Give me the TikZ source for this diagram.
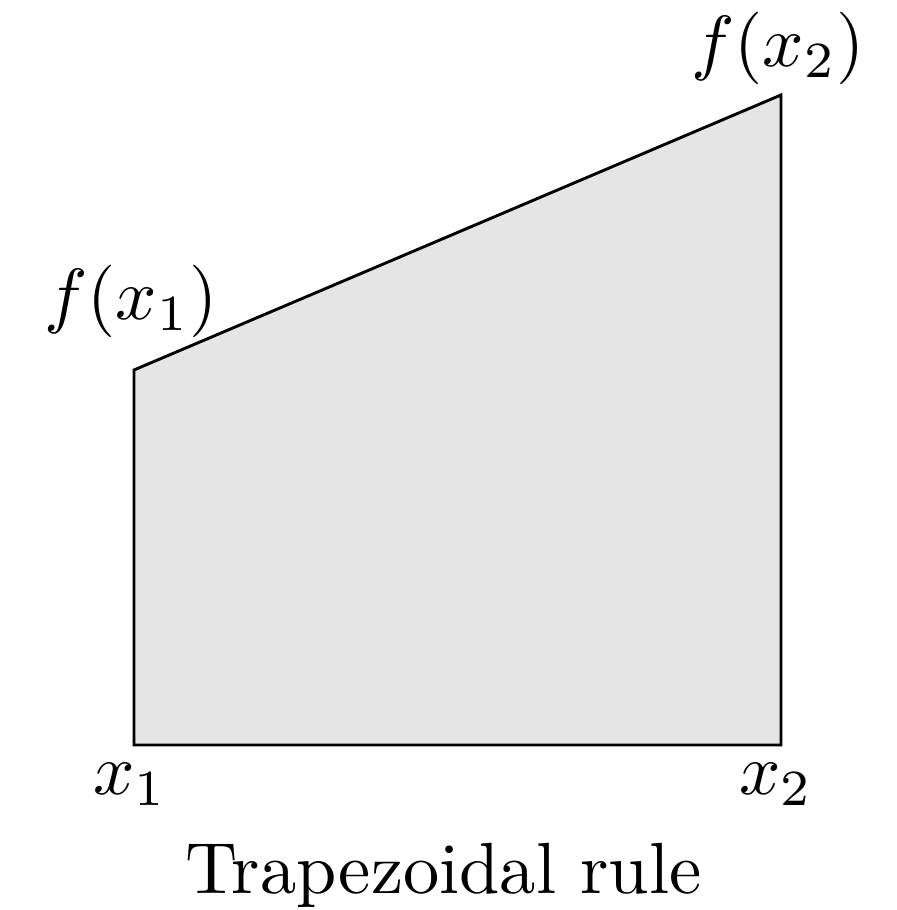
\documentclass[tikz,border=0pt]{standalone}
\usepackage{tikz}
\usetikzlibrary{calc}

\begin{document}
\begin{tikzpicture}[
  x=0.138pt, y=0.138pt,
  area/.style={draw, fill=black!10, line join=miter},
  lbl/.style={anchor=base, inner sep=0pt}
]
\useasboundingbox (0,0) rectangle (897,910);
% corners of the trapezoid
\coordinate (xa) at (134,165);
\coordinate (xb) at (781,165);
\coordinate (fb) at (781,815);
\coordinate (fa) at (134,540);

\filldraw[area] (xa) -- (xb) -- (fb) -- (fa) -- cycle;

\node[lbl] (lfb) at ($(fb)+(-3,28)$) {$f(x_2)$};
\node[lbl] (lfa) at ($(fa)+(-3,50)$) {$f(x_1)$};
\node[lbl] (lxa) at ($(xa)+(-4,-50)$) {$x_1$};
\node[lbl] (lxb) at ($(xb)+(-5,-50)$) {$x_2$};
\node[lbl] (title) at ($(xa)!0.5!(xb)+(-14,-148)$) {Trapezoidal rule};
\end{tikzpicture}
\end{document}
